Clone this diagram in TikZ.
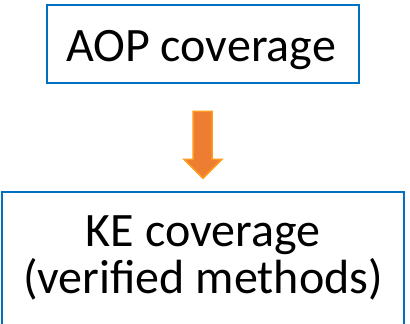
\documentclass[tikz,border=0pt]{standalone}
\usepackage{fontspec}
\setmainfont{Carlito}
\usetikzlibrary{calc}
\definecolor{boxblue}{RGB}{0,112,192}
\definecolor{arrfill}{RGB}{237,125,49}
\definecolor{arrline}{RGB}{255,155,30}
\begin{document}
\begin{tikzpicture}[x=1pt,y=-1pt,
  boxstyle/.style={draw=boxblue, line width=2.6pt, fill=white, inner sep=0pt},
  txt/.style={anchor=base, inner sep=0pt, font=\fontsize{48}{48}\selectfont, text=black},
  bigarrow/.style={fill=arrfill, draw=arrline, line width=1.5pt, line join=miter}]
\useasboundingbox (0,0) rectangle (410,324);
\clip (0,0) rectangle (410,324);
\fill[white] (0,0) rectangle (410,324);
% top box
\node[boxstyle, minimum width=312pt, minimum height=78pt] (aop) at (203,44) {};
\node[txt] (aoptext) at (201,61) {AOP coverage};
% bottom box (extends below the picture)
\node[boxstyle, minimum width=402pt, minimum height=160pt] (ke) at (203,272) {};
\node[txt] (ketext1) at (203,246) {KE coverage};
\node[txt] (ketext2) at (203,293) {(verified methods)};
% block arrow between the boxes
\coordinate (as) at ($(aop.south)+(0,27)$);
\draw[bigarrow] ($(as)+(-10,0)$) -- ($(as)+(9,0)$) -- ($(as)+(9,48)$) -- ($(as)+(19,48)$)
  -- ($(as)+(0,67)$) -- ($(as)+(-19,48)$) -- ($(as)+(-10,48)$) -- cycle;
\end{tikzpicture}
\end{document}
